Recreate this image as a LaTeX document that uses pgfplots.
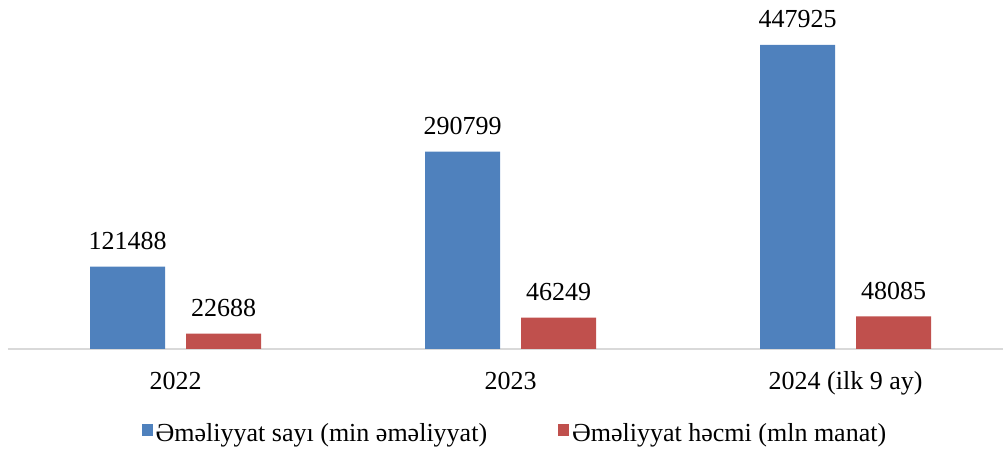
\documentclass[border=0pt]{standalone}
\usepackage{fontspec}
\setmainfont{Liberation Serif}
\usepackage{pgfplots}
\pgfplotsset{compat=1.18}
\definecolor{barblue}{HTML}{4F81BD}
\definecolor{barred}{HTML}{C0504D}
\definecolor{axisgray}{HTML}{D9D9D9}
\begin{document}
\fontsize{13pt}{15.6pt}\selectfont
\begin{tikzpicture}
\begin{axis}[
    at={(4pt,52pt)}, anchor=south west,
    scale only axis,
    width=497.5pt, height=174.5pt,
    ybar, bar width=37.5pt,
    xmin=-0.5, xmax=2.47,
    ymin=0, ymax=514200,
    axis x line*=bottom, axis y line=none,
    axis line style={-, axisgray, line width=1pt},
    xtick=data, major tick length=0pt,
    xticklabels={2022, 2023, 2024 (ilk 9 ay)},
    xticklabel style={anchor=base, yshift=-20.5pt, inner sep=0pt},
    /pgf/number format/assume math mode=true,
    point meta=explicit symbolic,
    nodes near coords,
    nodes near coords style={anchor=base, yshift=8.5pt, inner sep=0pt, black},
    clip=false,
    legend columns=2,
    legend style={at={(0.510,-0.246)}, anchor=center, draw=none, fill=none,
        /tikz/every even column/.append style={column sep=34pt},
        nodes={inner xsep=1.5pt}},
    legend image code/.code={\fill[#1, draw=none] (0pt,-0.8pt) rectangle (5.5pt,5.5pt);},
]
\addplot[fill=barblue, draw=none, bar shift=-24pt] coordinates {(0,121488) [121488] (1,290799) [290799] (2,447925) [447925]};
\addplot[fill=barred, draw=none, bar shift=24pt] coordinates {(0,22688) [22688] (1,46249) [46249] (2,48085) [48085]};
\legend{Əməliyyat sayı (min əməliyyat), Əməliyyat həcmi (mln manat)}
\end{axis}
\pgfresetboundingbox
\useasboundingbox (0,0) rectangle (501.5pt,226.5pt);
\end{tikzpicture}
\end{document}
